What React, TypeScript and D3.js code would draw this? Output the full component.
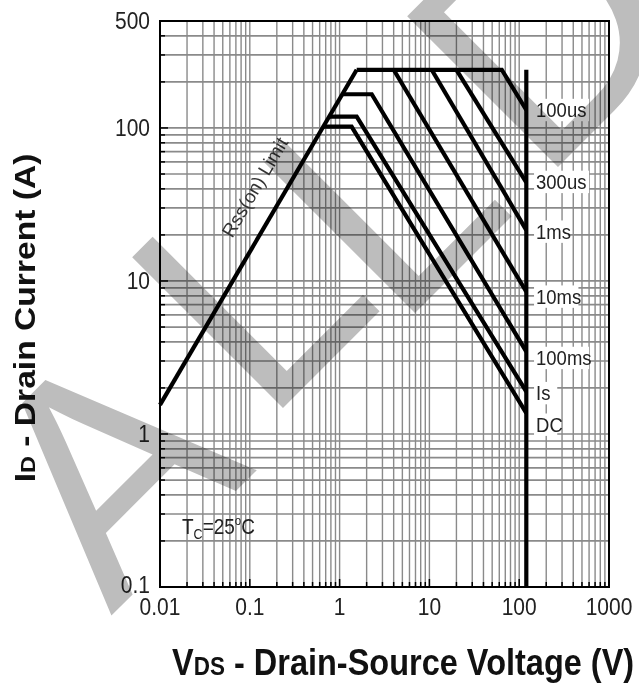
import React from 'react';
import * as d3 from 'd3';

// ---- data ----
const xTickValues = [0.01, 0.1, 1, 10, 100, 1000];
const xTickLabels = ['0.01', '0.1', '1', '10', '100', '1000'];
const yTickValues = [0.1, 1, 10, 100, 500];
const yTickLabels = ['0.1', '1', '10', '100', '500'];

const rdsLimit: [number, number][] = [[0.01, 1.55], [1.55, 240]];
const curve100us: [number, number][] = [[1.55, 240], [64, 240], [120, 131]];
const curve300us: [number, number][] = [[20, 240], [120, 44]];
const curve1ms: [number, number][] = [[10.6, 240], [120, 21.5]];
const curve10ms: [number, number][] = [[4, 240], [120, 8.5]];
const curve100ms: [number, number][] = [[1.07, 166], [2.28, 166], [120, 3.45]];
const curve1s: [number, number][] = [[0.765, 118.5], [1.55, 118.5], [120, 1.89]];
const curveDC: [number, number][] = [[0.66, 102], [1.36, 102], [120, 1.37]];
const voltageLimit: [number, number][] = [[120, 240], [120, 0.1]];

const curveLabels = ['100us', '300us', '1ms', '10ms', '100ms', 'Is', 'DC'];
const curveLabelCurrents = [131, 44.4, 21, 7.9, 3.14, 1.85, 1.15];
const labelVoltage = 158;

// watermark letters (decoration)
const watermarkLetters = ['A', 'L', 'L', 'D'];
const watermarkOrigins: [number, number][] = [[111, 616], [265, 426], [397, 331], [540, 185]];

const W = 639;
const H = 684;
const FONT = '"Liberation Sans", Arial, Helvetica, sans-serif';

export default function App() {
  const x = d3.scaleLog().domain([0.01, 1000]).range([160, 609]);
  const y = d3.scaleLog().domain([0.1, 500]).range([587, 21]);
  const line = d3
    .line<[number, number]>()
    .x((d) => x(d[0]))
    .y((d) => y(d[1]));

  const xGrid: number[] = [];
  for (let e = -2; e <= 2; e++) for (let k = 1; k <= 9; k++) xGrid.push(k * Math.pow(10, e));
  const yGrid: number[] = [];
  for (let e = -1; e <= 2; e++) for (let k = 1; k <= 9; k++) {
    const v = k * Math.pow(10, e);
    if (v <= 500) yGrid.push(v);
  }
  const isMajor = (v: number) => Math.abs(Math.log10(v) - Math.round(Math.log10(v))) < 1e-9;

  const [x0, x1] = x.range();
  const [y0, y1] = y.range();
  const curves = [rdsLimit, curve100us, curve300us, curve1ms, curve10ms, curve100ms, curve1s, curveDC, voltageLimit];

  // Rds label anchor
  const rdsAngle = (Math.atan2(y(10) - y(1), x(10) - x(1)) * 180) / Math.PI;
  const rx = x(0.114);
  const ry = y(41);

  const SY = 1.12;

  return (
    <div style={{ position: 'absolute', left: 0, top: 0 }}>
      <svg width={W} height={H} style={{ display: 'block', background: '#fff' }} fontFamily={FONT}>
        <rect width={W} height={H} fill="#fff" />
        {/* grid */}
        <g stroke="#8a8a8a">
          {xGrid.map((v, i) => (
            <line key={'gx' + i} x1={x(v)} x2={x(v)} y1={y1} y2={y0} strokeWidth={1.4} />
          ))}
          {yGrid.map((v, i) => (
            <line key={'gy' + i} x1={x0} x2={x1} y1={y(v)} y2={y(v)} strokeWidth={1.7} />
          ))}
        </g>
        {/* inner ticks */}
        <g stroke="#000" strokeWidth={1.5}>
          {xGrid.map((v, i) => (
            <line key={'tx' + i} x1={x(v)} x2={x(v)} y1={y0} y2={y0 - (isMajor(v) ? 8 : 5)} />
          ))}
          {yGrid.map((v, i) => (
            <line key={'ty' + i} x1={x0} x2={x0 + (isMajor(v) ? 8 : 5)} y1={y(v)} y2={y(v)} />
          ))}
        </g>
        {/* frame */}
        <rect x={x0} y={y1} width={x1 - x0} height={y0 - y1} fill="none" stroke="#000" strokeWidth={2} />

        {/* curves */}
        <g fill="none" stroke="#000" strokeWidth={4.2} strokeLinejoin="miter">
          {curves.map((c, i) => (
            <path key={'c' + i} d={line(c) || ''} />
          ))}
        </g>

        {/* curve labels */}
        {curveLabels.map((t, i) => {
          const lx = x(labelVoltage) - 1;
          const ly = y(curveLabelCurrents[i]);
          const w = t.length * 10.6 + 2;
          return (
            <g key={'l' + i} transform={`translate(${lx},${ly}) scale(1,${SY})`}>
              <rect x={-2} y={-10} width={w} height={20} fill="#fff" />
              <text x={0} y={0} dominantBaseline="central" fontSize={18.5} fill="#222">
                {t}
              </text>
            </g>
          );
        })}

        {/* Rds(on) limit label */}
        <text
          transform={`translate(${rx},${ry}) rotate(${rdsAngle})`}
          textAnchor="middle"
          dominantBaseline="central"
          fontSize={19}
          fill="#333"
        >
          Rss(on) Limit
        </text>

        {/* Tc label */}
        <g transform={`translate(182,527) scale(1,${SY})`}>
          <text x={0} y={6} fontSize={19} fill="#222">
            T
            <tspan fontSize={12.5} dy={5}>C</tspan>
            <tspan fontSize={19} dy={-5}>=25</tspan>
            <tspan fontSize={11.5} dy={-8}>o</tspan>
            <tspan fontSize={19} dy={8}>C</tspan>
          </text>
        </g>

        {/* y tick labels */}
        {yTickValues.map((v, i) => (
          <g key={'yl' + i} transform={`translate(150,${y(v) - (v === 0.1 ? 2 : 0)}) scale(1,${SY})`}>
            <text textAnchor="end" dominantBaseline="central" fontSize={21} fill="#222">
              {yTickLabels[i]}
            </text>
          </g>
        ))}
        {/* x tick labels */}
        {xTickValues.map((v, i) => (
          <g key={'xl' + i} transform={`translate(${x(v)},607) scale(1,${SY})`}>
            <text textAnchor="middle" dominantBaseline="central" fontSize={21} fill="#222">
              {xTickLabels[i]}
            </text>
          </g>
        ))}

        {/* axis titles */}
        <g transform={`translate(172,675) scale(1,${SY})`}>
          <text fontSize={32.5} fontWeight="bold" fill="#111">
            V<tspan fontSize={22.5}>DS</tspan> - Drain-Source Voltage (V)
          </text>
        </g>
        <g transform={`translate(35,318) scale(1,${SY}) rotate(-90)`}>
          <text textAnchor="middle" fontSize={30} fontWeight="bold" fill="#111">
            I<tspan fontSize={21}>D</tspan> - Drain Current (A)
          </text>
        </g>

        {/* watermark */}
        <g style={{ mixBlendMode: 'multiply' }} fill="#bdbdbd" fontSize={310}>
          {watermarkLetters.map((ch, i) => (
            <text
              key={'wm' + i}
              transform={`translate(${watermarkOrigins[i][0]},${watermarkOrigins[i][1]}) rotate(-45)`}
            >
              {ch}
            </text>
          ))}
        </g>
      </svg>
    </div>
  );
}
